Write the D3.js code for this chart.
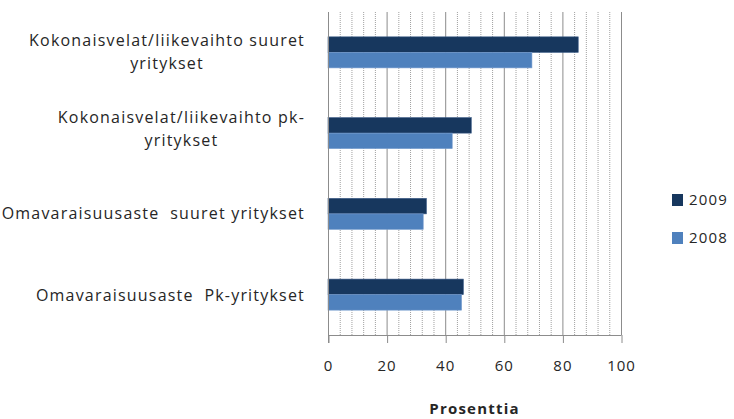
<!DOCTYPE html>
<meta charset="utf-8">
<script src="https://d3js.org/d3.v7.min.js"></script>
<style>
  body { margin: 0; background: #fff; }
  text { font-family: "Open Sans", sans-serif; fill: #262626; white-space: pre; }
</style>
<div id="my_dataviz"></div>
<script>

// data
var categories = [
  ["Kokonaisvelat/liikevaihto suuret", "yritykset"],
  ["Kokonaisvelat/liikevaihto pk-", "yritykset"],
  ["Omavaraisuusaste  suuret yritykset"],
  ["Omavaraisuusaste  Pk-yritykset"]
];
var years = ["2009", "2008"];
var values2009 = [85.4, 48.9, 33.6, 46.2];
var values2008 = [69.6, 42.4, 32.5, 45.6];
var xTicks = [0, 20, 40, 60, 80, 100];
var colors = ["#17375E", "#4F81BD"];

var W = 734, H = 419;
var margin = {top: 12, left: 328, right: 113, bottom: 84};
var width = W - margin.left - margin.right,
    height = H - margin.top - margin.bottom;

var svg = d3.select("#my_dataviz")
  .append("svg")
    .attr("width", W)
    .attr("height", H);

var g = svg.append("g")
    .attr("transform", "translate(" + margin.left + "," + margin.top + ")");

var x = d3.scaleLinear().domain([0, 100]).range([0, width]);
var y = d3.scaleBand().domain(d3.range(categories.length)).range([0, height]);
var ySub = d3.scaleBand().domain(years).range([0, y.bandwidth()]).paddingOuter(1.6);

// minor gridlines every 4
g.append("g")
  .selectAll("line")
  .data(d3.range(0, 101, 4).filter(function(d) { return d % 20 !== 0; }))
  .enter().append("line")
    .attr("x1", function(d) { return x(d) + 0.5; })
    .attr("x2", function(d) { return x(d) + 0.5; })
    .attr("y1", 0)
    .attr("y2", height)
    .attr("stroke", "#a0a0a0")
    .attr("stroke-dasharray", "1,1");

// major gridlines
g.append("g")
  .selectAll("line")
  .data(xTicks.slice(1))
  .enter().append("line")
    .attr("x1", function(d) { return x(d) + 0.5; })
    .attr("x2", function(d) { return x(d) + 0.5; })
    .attr("y1", 0)
    .attr("y2", height)
    .attr("stroke", "#8c8c8c");

// bars
var series = [values2009, values2008];
series.forEach(function(vals, i) {
  g.append("g")
    .selectAll("rect")
    .data(vals)
    .enter().append("rect")
      .attr("x", x(0))
      .attr("y", function(d, j) { return y(j) + ySub(years[i]); })
      .attr("width", function(d) { return x(d) - x(0); })
      .attr("height", ySub.bandwidth())
      .attr("fill", colors[i])
      .attr("stroke", i === 0 ? "#3a5a86" : "#7a9fd0")
      .attr("stroke-width", 0.6);
});

// x axis
var xAxis = g.append("g")
    .attr("transform", "translate(0," + height + ")")
    .call(d3.axisBottom(x).tickValues(xTicks).tickSize(8).tickPadding(17));
xAxis.select(".domain").attr("stroke", "#8c8c8c").attr("d", "M0.5,0.5H" + (width + 0.5));
xAxis.selectAll(".tick line").attr("stroke", "#8c8c8c").attr("transform", "translate(0.5,0)");
xAxis.selectAll(".tick text")
    .style("font-size", "15px")
    .style("letter-spacing", "1px")
    .style("font-family", "'Open Sans', sans-serif")
    .attr("fill", "#262626");

// y axis line
g.append("line")
    .attr("x1", 0.5).attr("x2", 0.5)
    .attr("y1", 0).attr("y2", height + 8)
    .attr("stroke", "#8c8c8c");

// category labels (centered block, right edge at fixed x)
var labelRight = 305;
var labelShift = [0, -4, 0, 1];
categories.forEach(function(lines, i) {
  var cy = margin.top + y(i) + y.bandwidth() / 2 + labelShift[i];
  var t = svg.append("text")
      .attr("text-anchor", "middle")
      .style("font-size", "16px")
      .style("letter-spacing", "1.2px");
  lines.forEach(function(line, k) {
    t.append("tspan")
      .attr("x", 0)
      .attr("y", cy + (k - (lines.length - 1) / 2) * 23 + 5)
      .text(line);
  });
  var maxW = d3.max(t.selectAll("tspan").nodes(), function(n) { return n.getComputedTextLength(); });
  t.selectAll("tspan").attr("x", labelRight - maxW / 2);
});

// axis title
svg.append("text")
    .attr("x", margin.left + width / 2)
    .attr("y", 414)
    .attr("text-anchor", "middle")
    .style("font-size", "15px")
    .style("font-weight", "bold")
    .style("letter-spacing", "1.2px")
    .text("Prosenttia");

// legend
var legendY = [200, 238];
years.forEach(function(yr, i) {
  svg.append("rect")
      .attr("x", 672)
      .attr("y", legendY[i] - 6)
      .attr("width", 11)
      .attr("height", 12)
      .attr("fill", colors[i]);
  svg.append("text")
      .attr("x", 689)
      .attr("y", legendY[i] + 5)
      .style("font-size", "15px")
      .style("letter-spacing", "1.2px")
      .text(yr);
});

</script>
